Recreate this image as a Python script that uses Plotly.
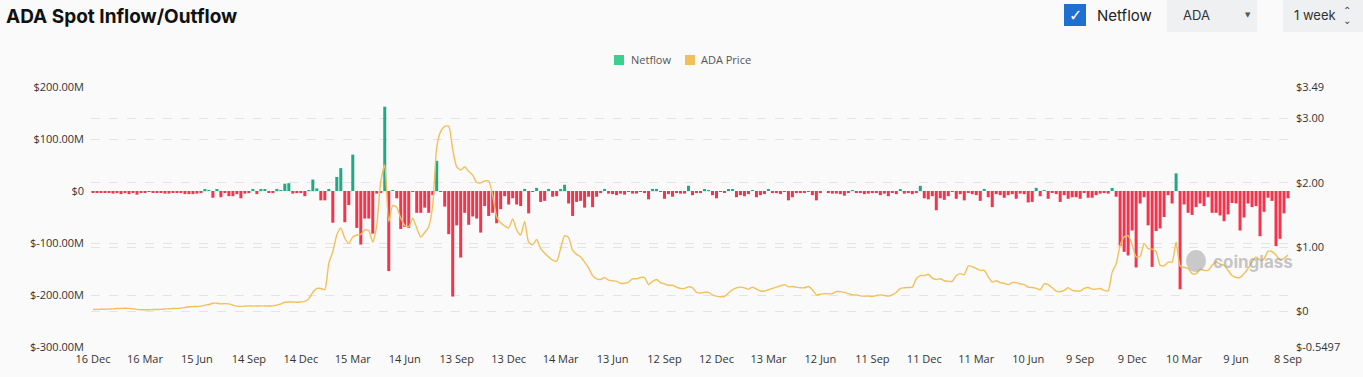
import pandas as pd
import plotly.graph_objects as go

# ---------------- data ----------------
start_date = "2019-12-16"
n_weeks = 300

netflow_m = [
    -2, -2, -2, -2, -3, -5, -4, -6, -4, -6, -4, -7, -2, -2, -1, -2, -2, -2, -5, -5,
    -3, -4, -4, -6, -6, -6, -5, -4, 2, 1, -13, 3, -12, -4, -10, -10, -6, -14, -5, -4,
    3, -6, 2, 2, -2, -4, 4, 1, 14, 15, -5, -4, -4, -10, 1, 22, 5, -18, -18, 3,
    -61, 27, 44, -60, -27, 70, -71, -103, -53, -53, -82, -5, -2, 162, -154, 1, -14, -73, -69, -71,
    -1, -42, -42, -32, -42, -8, 58, -1, -30, -83, -203, -66, -128, -42, -65, -49, -53, -80, -29, -48,
    -42, -62, -35, -10, -26, -14, -26, -29, 4, -43, -1, 6, -21, -19, 4, -11, -10, 2, 12, -24,
    -48, -21, -19, -32, -11, -31, -11, -4, 4, -5, -6, -8, -5, -7, -1, -5, -5, -1, -4, -16,
    4, 4, -1, -15, -6, -11, -4, -5, -5, 10, -8, -4, -4, 2, 1, -8, -14, -1, -2, 3,
    3, -12, -8, -10, -6, 1, -12, -8, -6, 3, -4, -4, -6, -1, -18, -12, -4, -4, -4, -1,
    -8, -18, -4, 0, -4, -5, -5, -6, -9, -4, 1, -4, -4, -6, -5, -4, -4, -8, -5, -10,
    -2, -6, 3, -5, -4, -6, -4, 10, -14, -16, -10, -37, -14, -17, -10, -1, -15, -6, -18, -4,
    -6, -8, -19, 4, -12, -31, -6, -8, -13, -8, -6, -15, -5, -6, -22, -21, 6, -10, 1, -15,
    -2, -6, -21, -8, -15, -12, -12, -15, -3, -13, -13, -8, -5, -4, -5, 6, -11, -106, -117, -124,
    -76, -147, -24, -12, -66, -146, -77, -72, -50, -8, -24, 34, -189, -26, -42, -46, -31, -24, -29, -12,
    -42, -42, -47, -58, -45, -23, -24, -76, -51, -24, -31, -29, -87, -40, -13, -19, -106, -92, -43, -14,
]

ada_price = [
    0.033, 0.035, 0.036, 0.037, 0.040, 0.043, 0.048, 0.050, 0.052, 0.050,
    0.045, 0.035, 0.028, 0.030, 0.030, 0.032, 0.033, 0.035, 0.040, 0.045,
    0.048, 0.050, 0.055, 0.065, 0.075, 0.078, 0.080, 0.085, 0.100, 0.110,
    0.130, 0.130, 0.120, 0.125, 0.120, 0.100, 0.085, 0.082, 0.085, 0.090,
    0.085, 0.088, 0.090, 0.088, 0.087, 0.090, 0.100, 0.120, 0.145, 0.150,
    0.150, 0.145, 0.150, 0.160, 0.200, 0.300, 0.360, 0.360, 0.340, 0.750,
    0.930, 1.190, 1.300, 1.140, 1.060, 1.160, 1.190, 1.200, 1.270, 1.260,
    1.080, 1.340, 2.020, 2.280, 1.400, 1.650, 1.620, 1.450, 1.340, 1.320,
    1.450, 1.300, 1.160, 1.230, 1.320, 1.650, 2.550, 2.800, 2.880, 2.880,
    2.520, 2.250, 2.200, 2.250, 2.180, 2.120, 2.010, 2.000, 2.030, 2.030,
    1.810, 1.470, 1.380, 1.330, 1.300, 1.440, 1.270, 1.190, 1.400, 1.080,
    1.040, 1.120, 0.980, 0.910, 0.850, 0.800, 0.780, 0.980, 1.180, 1.150,
    0.950, 0.890, 0.850, 0.770, 0.680, 0.560, 0.510, 0.500, 0.530, 0.490,
    0.480, 0.470, 0.440, 0.440, 0.460, 0.510, 0.510, 0.530, 0.530, 0.420,
    0.470, 0.500, 0.450, 0.430, 0.410, 0.410, 0.380, 0.360, 0.360, 0.385,
    0.370, 0.300, 0.290, 0.300, 0.300, 0.260, 0.240, 0.230, 0.235, 0.290,
    0.340, 0.370, 0.380, 0.370, 0.350, 0.380, 0.350, 0.320, 0.320, 0.340,
    0.360, 0.380, 0.400, 0.420, 0.385, 0.390, 0.380, 0.370, 0.370, 0.390,
    0.340, 0.260, 0.270, 0.280, 0.275, 0.280, 0.310, 0.310, 0.300, 0.280,
    0.260, 0.260, 0.245, 0.240, 0.240, 0.235, 0.250, 0.260, 0.250, 0.240,
    0.260, 0.300, 0.360, 0.370, 0.375, 0.380, 0.510, 0.560, 0.560, 0.580,
    0.520, 0.500, 0.510, 0.480, 0.470, 0.470, 0.560, 0.590, 0.575, 0.710,
    0.700, 0.670, 0.640, 0.640, 0.540, 0.460, 0.480, 0.450, 0.440, 0.420,
    0.450, 0.450, 0.430, 0.420, 0.380, 0.375, 0.360, 0.340, 0.430, 0.420,
    0.370, 0.320, 0.310, 0.330, 0.370, 0.330, 0.320, 0.320, 0.360, 0.375,
    0.350, 0.350, 0.360, 0.330, 0.320, 0.610, 0.740, 1.030, 1.160, 1.180,
    1.040, 0.850, 0.860, 1.060, 0.980, 0.970, 0.930, 0.720, 0.710, 0.770,
    0.770, 1.080, 0.710, 0.690, 0.670, 0.590, 0.590, 0.660, 0.640, 0.640,
    0.720, 0.770, 0.740, 0.720, 0.640, 0.560, 0.530, 0.530, 0.590, 0.670,
    0.770, 0.850, 0.800, 0.820, 0.940, 0.930, 0.880, 0.800, 0.830, 0.880,
]

left_tick_vals = [-300, -200, -100, 0, 100, 200]
left_tick_text = ["$-300.00M", "$-200.00M", "$-100.00M", "$0", "$100.00M", "$200.00M"]
right_tick_vals = [-0.5497, 0, 1, 2, 3, 3.49]
right_tick_text = ["$-0.5497", "$0", "$1.00", "$2.00", "$3.00", "$3.49"]

# ---------------- figure ----------------
dates = pd.date_range(start_date, periods=n_weeks, freq="7D")
GREEN = "#22a884"
RED = "#f5344c"
GOLD = "#f2c05a"
LEG_GREEN = "#3ccf8e"
bar_colors = [GREEN if v >= 0 else RED for v in netflow_m]

tick_dates = dates[::13]
tick_text = [f"{d.day} {d.strftime('%b')}" for d in tick_dates]

fig = go.Figure()
fig.add_trace(go.Bar(x=dates, y=netflow_m, marker=dict(color=bar_colors, line=dict(width=0)),
                     name="Netflow", showlegend=False, yaxis="y"))
fig.add_trace(go.Scatter(x=dates, y=ada_price, mode="lines", name="ADA Price",
                         line=dict(color=GOLD, width=1.4, shape="spline", smoothing=0.6),
                         showlegend=False, yaxis="y2"))

W, H = 1363, 377
L, R, T, B = 91, 73, 87, 30
pw, ph = W - L - R, H - T - B


def px(x):
    return (x - L) / pw


def py(y):
    return (H - B - y) / ph


half = pd.Timedelta(days=3.5)
fig.update_layout(
    width=W, height=H,
    margin=dict(l=L, r=R, t=T, b=B),
    paper_bgcolor="#fafafa", plot_bgcolor="#fafafa",
    font=dict(family="Open Sans, Arial, sans-serif", size=11, color="#333"),
    bargap=0.25,
    showlegend=False,
    xaxis=dict(type="date", range=[dates[0] - half, dates[-1] + half],
               tickvals=list(tick_dates), ticktext=tick_text, showgrid=False,
               showline=False, ticks="", tickfont=dict(size=11, color="#333"), zeroline=False,
               ticklabelstandoff=4),
    yaxis=dict(range=[-300, 200], tickvals=left_tick_vals, ticktext=left_tick_text,
               showgrid=True, gridcolor="#e4e4e4", griddash="dash", gridwidth=1,
               zeroline=False, tickfont=dict(size=11, color="#333"), ticks="",
               ticklabelstandoff=6),
    yaxis2=dict(range=[-0.5497, 3.49], tickvals=right_tick_vals, ticktext=right_tick_text,
                overlaying="y", side="right", showgrid=True, gridcolor="#e4e4e4",
                griddash="dash", gridwidth=1, zeroline=False,
                tickfont=dict(size=11, color="#333"), ticks="", ticklabelstandoff=5),
)

anns = []
anns.append(dict(x=px(4), y=py(16), xref="paper", yref="paper", text="<b>ADA Spot Inflow/Outflow</b>",
                 showarrow=False, xanchor="left", yanchor="middle",
                 font=dict(size=19, color="#111", family="Inter, Arial, sans-serif")))
anns.append(dict(x=px(1095), y=py(15), xref="paper", yref="paper", text="Netflow",
                 showarrow=False, xanchor="left", yanchor="middle",
                 font=dict(size=15, color="#222", family="Inter, Arial, sans-serif")))
anns.append(dict(x=px(1075), y=py(15), xref="paper", yref="paper", text="<b>✓</b>",
                 showarrow=False, xanchor="center", yanchor="middle",
                 font=dict(size=16, color="white", family="DejaVu Sans")))
anns.append(dict(x=px(1181), y=py(15), xref="paper", yref="paper", text="ADA",
                 showarrow=False, xanchor="left", yanchor="middle",
                 font=dict(size=13, color="#333", family="Inter, Arial, sans-serif")))
anns.append(dict(x=px(1248), y=py(15), xref="paper", yref="paper", text="▼",
                 showarrow=False, xanchor="center", yanchor="middle",
                 font=dict(size=7, color="#555", family="DejaVu Sans")))
anns.append(dict(x=px(1292), y=py(15), xref="paper", yref="paper", text="1 week",
                 showarrow=False, xanchor="left", yanchor="middle",
                 font=dict(size=13, color="#333", family="Inter, Arial, sans-serif")))
anns.append(dict(x=px(1347), y=py(11), xref="paper", yref="paper", text="⌃",
                 showarrow=False, xanchor="center", yanchor="middle",
                 font=dict(size=10, color="#444", family="DejaVu Sans")))
anns.append(dict(x=px(1347), y=py(20), xref="paper", yref="paper", text="⌄",
                 showarrow=False, xanchor="center", yanchor="middle",
                 font=dict(size=10, color="#444", family="DejaVu Sans")))
# legend (manual, square swatches)
anns.append(dict(x=px(629), y=py(60), xref="paper", yref="paper", text="Netflow",
                 showarrow=False, xanchor="left", yanchor="middle",
                 font=dict(size=11, color="#555")))
anns.append(dict(x=px(699), y=py(60), xref="paper", yref="paper", text="ADA Price",
                 showarrow=False, xanchor="left", yanchor="middle",
                 font=dict(size=11, color="#555")))
anns.append(dict(x=px(1211), y=py(262), xref="paper", yref="paper", text="<b>coinglass</b>",
                 showarrow=False, xanchor="left", yanchor="middle", opacity=0.55,
                 font=dict(size=17, color="#9a9a9a", family="Inter, Arial, sans-serif")))
fig.update_layout(annotations=anns)

shapes = []
shapes.append(dict(type="rect", xref="paper", yref="paper", x0=px(614), x1=px(624), y0=py(55), y1=py(65),
                   fillcolor=LEG_GREEN, line=dict(width=0), layer="above"))
shapes.append(dict(type="rect", xref="paper", yref="paper", x0=px(685), x1=px(695), y0=py(55), y1=py(65),
                   fillcolor=GOLD, line=dict(width=0), layer="above"))
shapes.append(dict(type="rect", xref="paper", yref="paper", x0=px(1064), x1=px(1086), y0=py(4), y1=py(26),
                   fillcolor="#1f6fd1", line=dict(width=0), layer="above"))
shapes.append(dict(type="rect", xref="paper", yref="paper", x0=px(1167), x1=px(1257), y0=py(0), y1=py(32),
                   fillcolor="#eef0f2", line=dict(width=0), layer="below"))
shapes.append(dict(type="rect", xref="paper", yref="paper", x0=px(1283), x1=px(1363), y0=py(0), y1=py(32),
                   fillcolor="#eef0f2", line=dict(width=0), layer="below"))
# watermark logo blob
shapes.append(dict(type="circle", xref="paper", yref="paper", x0=px(1186), x1=px(1206), y0=py(250), y1=py(272),
                   fillcolor="rgba(160,160,160,0.55)", line=dict(width=0), layer="above"))
fig.update_layout(shapes=shapes)

fig.write_html("out.html", config={"displayModeBar": False})

# remove default page margin so the figure sits at the window's top-left corner
with open("out.html", "r", encoding="utf-8") as f:
    html = f.read()
html = html.replace("<head>", "<head><style>html,body{margin:0;padding:0;overflow:hidden;}</style>", 1)
with open("out.html", "w", encoding="utf-8") as f:
    f.write(html)
